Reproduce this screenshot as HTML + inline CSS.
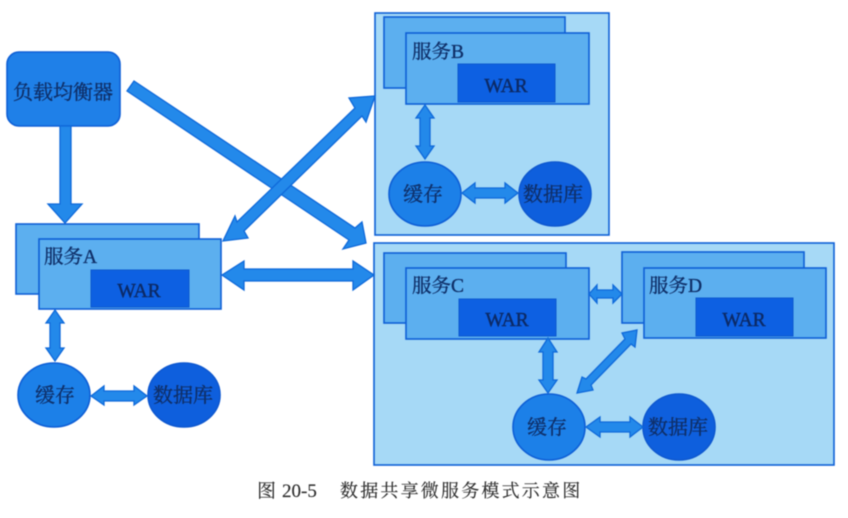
<!DOCTYPE html>
<html><head><meta charset="utf-8">
<style>
html,body{margin:0;padding:0;background:#fff;width:848px;height:518px;overflow:hidden}
svg{display:block;filter:blur(0.5px)}
text{font-family:"Liberation Serif","Noto Serif CJK SC",serif;fill:#0f2f68;stroke:#0f2f68;stroke-width:.35px}
.box{fill:#5cafef;stroke:#0e5fd6;stroke-width:1.6}
.war{fill:#0d60e2;stroke:#0d58d0;stroke-width:1}
.cont{fill:#a6d9f6;stroke:#0e5fd6;stroke-width:1.6}
.cache{fill:#1c80e8;stroke:#0e5fd6;stroke-width:1.6}
.db{fill:#0e5fdd;stroke:#0e58d0;stroke-width:1.6}
.ar{fill:#2389ea;stroke:#0f69da;stroke-width:1.3;stroke-linejoin:miter}
.l{font-size:19.5px}
.w{font-size:19.5px;text-anchor:middle;fill:#0c2a66;stroke:#0c2a66;stroke-width:.4px}
.c{font-size:20px;text-anchor:middle}
.cap{fill:#2c2c2c;stroke:#2c2c2c;stroke-width:.15px}
</style></head><body>
<svg width="848" height="518" viewBox="0 0 848 518" xmlns="http://www.w3.org/2000/svg">
<rect class="cont" x="375" y="13" width="234" height="222"/>
<rect class="cont" x="374" y="243" width="460" height="222"/>

<rect x="7" y="52" width="113" height="74" rx="12" fill="#1f80e8" stroke="#0e5fd6" stroke-width="1.6"/>
<text x="13" y="99" style="font-size:20px">负载均衡器</text>

<polygon class="ar" points="60,126 71,126 71,204 82,204 65,223 48,204 60,204"/>
<polygon class="ar" points="134,81 355,228 362,222 366,243 343,249 349,240 127,91"/>
<polygon class="ar" points="375,96 366,122 362,116 244,231 248,238 223,241 235,216 237,222 355,108 349,98"/>
<polygon class="ar" points="222,275 244,261 244,269 353,269 353,261 374,275 353,290 353,281 244,281 244,290"/>

<!-- Service A -->
<rect class="box" x="16" y="224" width="183" height="70"/>
<rect class="box" x="39" y="239" width="182" height="70"/>
<rect class="war" x="91" y="270" width="98" height="37"/>
<text class="l" x="44" y="263">服务A</text>
<text class="w" x="139" y="297">WAR</text>
<polygon class="ar" points="55,310 64,323 60,323 60,348 64,348 55,361 46,348 50,348 50,323 46,323"/>
<ellipse class="cache" cx="54" cy="395" rx="36" ry="32"/>
<ellipse class="db" cx="184" cy="395" rx="36" ry="32"/>
<text class="c" x="55" y="402">缓存</text>
<text class="c" x="183" y="402">数据库</text>
<polygon class="ar" points="91,396 104,386 104,391 134,391 134,386 147,396 134,405 134,401 104,401 104,405"/>

<!-- Service B -->
<rect class="box" x="384" y="17" width="181" height="71"/>
<rect class="box" x="406" y="33" width="183" height="71"/>
<rect class="war" x="458" y="64" width="97" height="38"/>
<text class="l" x="412" y="58">服务B</text>
<text class="w" x="506" y="92">WAR</text>
<polygon class="ar" points="425,105 434,118 430,118 430,146 434,146 425,159 416,146 420,146 420,118 416,118"/>
<ellipse class="cache" cx="425" cy="194" rx="36" ry="32"/>
<ellipse class="db" cx="555" cy="194" rx="36" ry="32"/>
<text class="c" x="423" y="201">缓存</text>
<text class="c" x="553" y="201">数据库</text>
<polygon class="ar" points="462,193 475,183 475,188 505,188 505,183 518,193 505,203 505,198 475,198 475,203"/>

<!-- Service C -->
<rect class="box" x="384" y="253" width="182" height="70"/>
<rect class="box" x="406" y="268" width="183" height="71"/>
<rect class="war" x="459" y="299" width="97" height="37"/>
<text class="l" x="412" y="292">服务C</text>
<text class="w" x="507" y="326">WAR</text>

<!-- Service D -->
<rect class="box" x="622" y="252" width="182" height="71"/>
<rect class="box" x="644" y="268" width="182" height="70"/>
<rect class="war" x="696" y="298" width="97" height="38"/>
<text class="l" x="649" y="292">服务D</text>
<text class="w" x="744" y="326">WAR</text>

<polygon class="ar" points="589,294 597,285 597,290 613,290 613,285 622,294 613,303 613,298 597,298 597,303"/>
<polygon class="ar" points="548,338 557,352 553,352 553,380 557,380 548,393 539,380 543,380 543,352 539,352"/>
<polygon class="ar" points="637,330 635,347 631,344 591,385 593,390 577,393 582,377 586,379 625,339 622,333"/>
<ellipse class="cache" cx="549" cy="427" rx="36" ry="33"/>
<ellipse class="db" cx="679" cy="427" rx="36" ry="33"/>
<text class="c" x="547" y="434">缓存</text>
<text class="c" x="678" y="434">数据库</text>
<polygon class="ar" points="586,427 600,417 600,422 630,422 630,417 643,427 630,437 630,432 600,432 600,437"/>

<!-- Caption -->
<text class="cap" x="257" y="497" style="font-size:19px">图</text>
<text class="cap" x="282" y="497" style="font-size:19px">20-5</text>
<text class="cap" x="340" y="497" style="font-size:18px;letter-spacing:2.2px">数据共享微服务模式示意图</text>
</svg>
</body></html>
